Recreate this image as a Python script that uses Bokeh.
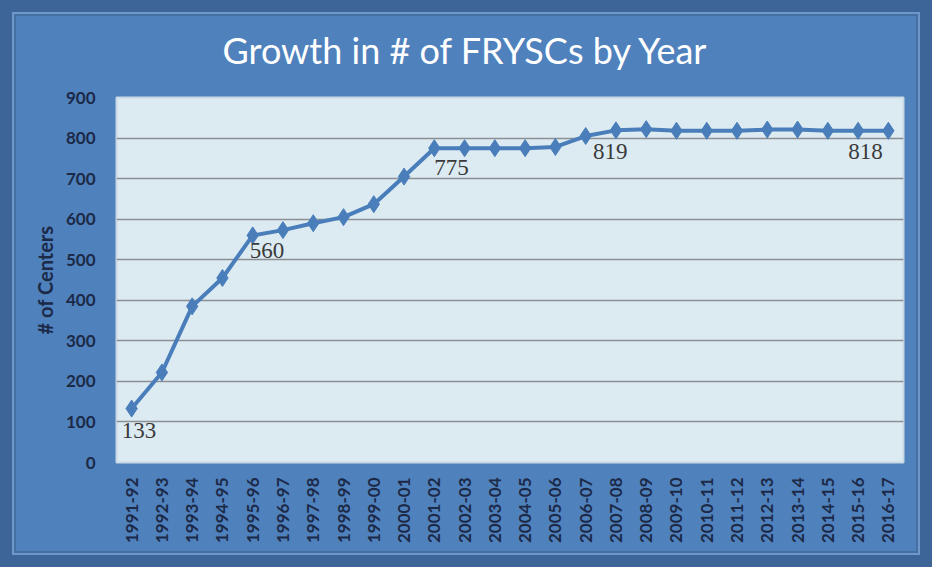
import numpy as np
from bokeh.plotting import figure
from bokeh.models import FactorRange, ColumnDataSource, SingleIntervalTicker, InlineStyleSheet
from bokeh.core.properties import value
from bokeh.embed import file_html
from bokeh.resources import INLINE

years = ["1991-92", "1992-93", "1993-94", "1994-95", "1995-96", "1996-97", "1997-98",
         "1998-99", "1999-00", "2000-01", "2001-02", "2002-03", "2003-04", "2004-05",
         "2005-06", "2006-07", "2007-08", "2008-09", "2009-10", "2010-11", "2011-12",
         "2012-13", "2013-14", "2014-15", "2015-16", "2016-17"]
centers = [133, 222, 385, 455, 560, 573, 590, 605, 637, 705, 775, 775, 775, 775,
           778, 805, 819, 822, 818, 818, 818, 821, 821, 818, 818, 818]

label_years = ["1991-92", "1995-96", "2001-02", "2007-08", "2016-17"]
label_values = [133, 560, 775, 819, 818]
label_dx = [-10, -3, 0, -23, -40]
label_dy = [22, 15, 19, 21, 21]

W, H = 932, 567
PANEL = "#4f81bd"
DARK = "#3d6597"
LINE = "#4a7ebb"

p = figure(x_range=FactorRange(*years), y_range=(0, 900), width=W, height=H,
           output_backend="svg", toolbar_location=None,
           min_border_left=116, min_border_right=29, min_border_top=97, min_border_bottom=105)

ring_css = (":host { position: relative; }\n"
            ":host::after { content: ''; position: absolute; left: 0; top: 0; right: 0; bottom: 0;"
            " border: 12px solid " + DARK + "; box-shadow: inset 0 0 0 2px #6f97cc, inset 0 0 0 4px #44709f;"
            " pointer-events: none; z-index: 100; }")
p.stylesheets = [InlineStyleSheet(css=ring_css)]

p.border_fill_color = PANEL
p.background_fill_color = "#dcebf2"
p.outline_line_color = "#c8d8e4"
p.outline_line_width = 2

p.title.text = "Growth in # of FRYSCs by Year"
p.title.align = "left"
p.title.offset = 106
p.title.text_font = "Lato"
p.title.text_font_style = "normal"
p.title.text_font_size = "36px"
p.title.text_color = "white"
p.title.standoff = 51

p.ygrid.grid_line_color = "#8a8f94"
p.ygrid.grid_line_width = 1.5
p.xgrid.grid_line_color = None

p.yaxis.ticker = SingleIntervalTicker(interval=100)
for ax in (p.xaxis[0], p.yaxis[0]):
    ax.axis_line_color = None
    ax.major_tick_line_color = None
    ax.minor_tick_line_color = None
    ax.major_label_text_font = "Lato"
    ax.major_label_text_font_style = "bold"
    ax.major_label_text_font_size = "17px"
    ax.major_label_text_color = "#1c2a48"

p.yaxis.major_label_standoff = 15
p.yaxis.axis_label = "# of Centers"
p.yaxis.axis_label_text_font = "Lato"
p.yaxis.axis_label_text_font_style = "bold"
p.yaxis.axis_label_text_font_size = "20px"
p.yaxis.axis_label_text_color = "#1c2a48"
p.yaxis.axis_label_standoff = 6

p.xaxis.major_label_orientation = np.pi / 2
p.xaxis.major_label_standoff = 9

src = ColumnDataSource(dict(x=years, y=centers))
p.line("x", "y", source=src, line_color=LINE, line_width=4)
p.scatter("x", "y", source=src, marker="diamond", size=17, fill_color=LINE, line_color=LINE)

lsrc = ColumnDataSource(dict(x=label_years, y=label_values, t=[str(v) for v in label_values],
                             dx=label_dx, dy=label_dy))
p.text("x", "y", text="t", source=lsrc, x_offset="dx", y_offset="dy",
       text_font=value("Liberation Serif"), text_font_size="23px", text_color="#3a3a3a",
       text_align="left", text_baseline="middle")

open("out.html", "w").write(file_html(p, INLINE))
